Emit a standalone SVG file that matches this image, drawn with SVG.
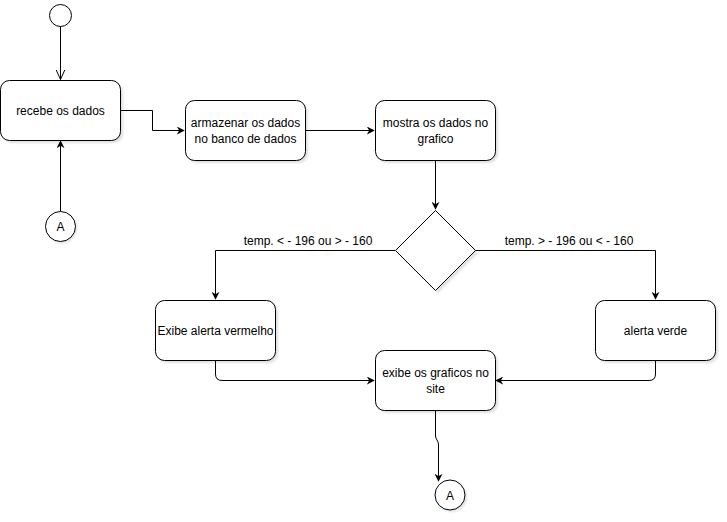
<svg xmlns="http://www.w3.org/2000/svg" width="727" height="522" viewBox="0 0 727 522">
  <style>
    .box { fill: #ffffff; stroke: #000000; stroke-width: 1; }
    .shadow { fill: #000000; opacity: 0.12; }
    .edge { fill: none; stroke: #000000; stroke-width: 1; }
    .label { font-family: "Liberation Sans", Arial, sans-serif; font-size: 12px; fill: #000000; text-anchor: middle; }
  </style>
  <defs>
    <filter id="soft" x="-20%" y="-20%" width="140%" height="140%">
      <feGaussianBlur stdDeviation="1.2"/>
    </filter>
    <marker id="arrow" viewBox="0 0 10 10" refX="9" refY="5" markerWidth="8" markerHeight="8" markerUnits="userSpaceOnUse" orient="auto">
      <path d="M0,0 L10,5 L0,10 L3,5 z" fill="#000000"/>
    </marker>
    <marker id="open" viewBox="0 0 10 10" refX="10" refY="5" markerWidth="10" markerHeight="10" markerUnits="userSpaceOnUse" orient="auto">
      <path d="M0,0.5 L10,5 L0,9.5" fill="none" stroke="#000000" stroke-width="1"/>
    </marker>
  </defs>

  <g id="connectors">
    <path class="edge" d="M60.5,26 L60.5,79.5" marker-end="url(#open)"/>
    <path class="edge" d="M120,110.5 L152.5,110.5 L152.5,130.5 L184,130.5" marker-end="url(#arrow)"/>
    <path class="edge" d="M305,130.5 L374,130.5" marker-end="url(#arrow)"/>
    <path class="edge" d="M435.5,160 L435.5,209" marker-end="url(#arrow)"/>
    <path class="edge" d="M395,250.5 L215.5,250.5 L215.5,299" marker-end="url(#arrow)"/>
    <path class="edge" d="M475,250.5 L655.5,250.5 L655.5,299" marker-end="url(#arrow)"/>
    <path class="edge" d="M215.5,360 L215.5,374 Q215.5,380.5 222,380.5 L374,380.5" marker-end="url(#arrow)"/>
    <path class="edge" d="M655.5,360 L655.5,374 Q655.5,380.5 649,380.5 L496,380.5" marker-end="url(#arrow)"/>
    <path class="edge" d="M435.5,410 L435.5,436 Q435.5,438 437,440 Q438.5,442 438.5,445 L438.5,481" marker-end="url(#arrow)"/>
    <path class="edge" d="M60.5,211 L60.5,141" marker-end="url(#arrow)"/>
  </g>

  <g id="start">
    <circle cx="60.5" cy="15.5" r="11" class="box"/>
  </g>

  <g id="recebe">
    <rect x="3" y="83" width="120" height="60" rx="9" class="shadow" filter="url(#soft)"/>
    <rect x="0.5" y="80.5" width="120" height="60" rx="9" class="box"/>
    <text x="60.5" y="114.5" class="label">recebe os dados</text>
  </g>

  <g id="armazenar">
    <rect x="188" y="103" width="120" height="60" rx="9" class="shadow" filter="url(#soft)"/>
    <rect x="185.5" y="100.5" width="120" height="60" rx="9" class="box"/>
    <text x="245.5" y="127" class="label">armazenar os dados</text>
    <text x="245.5" y="143" class="label">no banco de dados</text>
  </g>

  <g id="mostra">
    <rect x="378" y="103" width="120" height="60" rx="9" class="shadow" filter="url(#soft)"/>
    <rect x="375.5" y="100.5" width="120" height="60" rx="9" class="box"/>
    <text x="435.5" y="127" class="label">mostra os dados no</text>
    <text x="435.5" y="143" class="label">grafico</text>
  </g>

  <g id="decisao">
    <path d="M438,213 L478,253 L438,293 L398,253 Z" class="shadow" filter="url(#soft)"/>
    <path d="M435.5,210.5 L475.5,250.5 L435.5,290.5 L395.5,250.5 Z" class="box"/>
  </g>

  <g id="edge-labels">
    <text x="308" y="245" class="label">temp. &lt; - 196 ou &gt; - 160</text>
    <text x="569" y="245" class="label">temp. &gt; - 196 ou &lt; - 160</text>
  </g>

  <g id="alerta-vermelho">
    <rect x="158" y="303" width="120" height="60" rx="9" class="shadow" filter="url(#soft)"/>
    <rect x="155.5" y="300.5" width="120" height="60" rx="9" class="box"/>
    <text x="215.5" y="334.5" class="label">Exibe alerta vermelho</text>
  </g>

  <g id="alerta-verde">
    <rect x="598" y="303" width="120" height="60" rx="9" class="shadow" filter="url(#soft)"/>
    <rect x="595.5" y="300.5" width="120" height="60" rx="9" class="box"/>
    <text x="655.5" y="334.5" class="label">alerta verde</text>
  </g>

  <g id="exibe-graficos">
    <rect x="378" y="353" width="120" height="60" rx="9" class="shadow" filter="url(#soft)"/>
    <rect x="375.5" y="350.5" width="120" height="60" rx="9" class="box"/>
    <text x="435.5" y="377" class="label">exibe os graficos no</text>
    <text x="435.5" y="393" class="label">site</text>
  </g>

  <g id="conector-a-fim">
    <circle cx="452" cy="497" r="15" class="shadow" filter="url(#soft)"/>
    <circle cx="450" cy="495" r="15" class="box"/>
    <text x="450" y="499.5" class="label">A</text>
  </g>

  <g id="conector-a-inicio">
    <circle cx="62" cy="228.5" r="15" class="shadow" filter="url(#soft)"/>
    <circle cx="60.5" cy="226.5" r="15" class="box"/>
    <text x="60.5" y="231" class="label">A</text>
  </g>
</svg>
